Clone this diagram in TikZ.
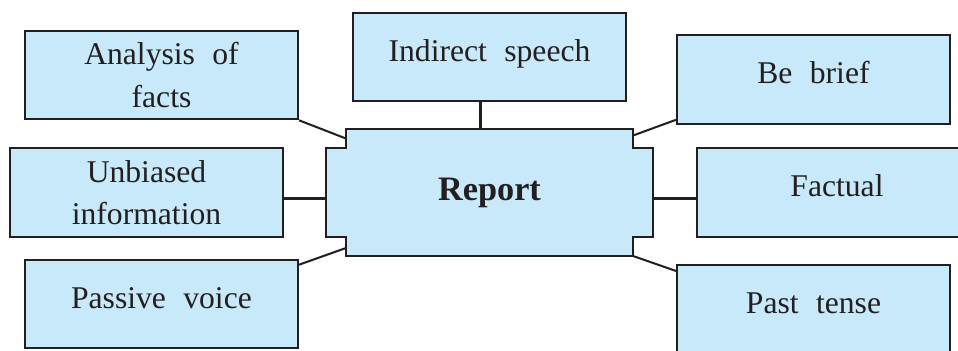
\documentclass[tikz,border=0pt]{standalone}
\usepackage{fontspec}
\setmainfont{Liberation Serif}[WordSpace=2.2]
\usepackage{tikz}
\usetikzlibrary{calc,backgrounds}
\definecolor{boxblue}{RGB}{199,233,249}
\definecolor{inkline}{RGB}{35,31,32}

\begin{document}
\begin{tikzpicture}[
  leaf/.style={draw=inkline, fill=boxblue, line width=1.2pt,
    minimum width=5.46cm, minimum height=1.77cm, align=center,
    font=\fontsize{18}{24}\selectfont, text=inkline},
  oneline/.style={text height=0.72em, text depth=0.22em},
  link/.style={draw=inkline, line width=1.15pt}
]
\useasboundingbox (0,0) rectangle (19.16,7);
\node [leaf] (analysis) at (3.23,5.50) {Analysis of\\facts};
\node [leaf] (unbiased) at (2.93,3.15) {Unbiased\\information};
\node [leaf, oneline] (passive) at (3.23,0.92) {Passive voice};
\node [leaf, oneline] (indirect) at (9.79,5.86) {Indirect speech};
\node [leaf, oneline] (bebrief) at (16.27,5.41) {Be brief};
\node [leaf, oneline, minimum width=5.6cm] (factual) at (16.74,3.15) {Factual};
\node [leaf, oneline] (pasttense) at (16.27,0.815) {Past tense};
\node [minimum width=6.52cm, minimum height=2.53cm, inner sep=0pt,
  font=\fontsize{19.5}{24}\selectfont\bfseries, text=inkline]
  (report) at (9.79,3.15) {Report};
\begin{scope}[on background layer]
\fill [boxblue, draw=inkline, line width=1.2pt]
  ([xshift=3.9mm]report.north west) -- ([xshift=-3.9mm]report.north east)
  -- ++(0,-3.8mm) -- ([yshift=-3.8mm]report.north east)
  -- ([yshift=3.8mm]report.south east) -- ++(-3.9mm,0)
  -- ([xshift=-3.9mm]report.south east) -- ([xshift=3.9mm]report.south west)
  -- ++(0,3.8mm) -- ([yshift=3.8mm]report.south west)
  -- ([yshift=-3.8mm]report.north west) -- ++(3.9mm,0) -- cycle;
\end{scope}
\draw [link] ([xshift=-1.8mm]indirect.south) -- ([xshift=-1.8mm]report.north);
\draw [link] ([yshift=-1.2mm]unbiased.east) -- ([yshift=-1.2mm]report.west);
\draw [link] ([yshift=-1.2mm]factual.west) -- ([yshift=-1.2mm]report.east);
\draw [link] (analysis.south east) -- ([shift={(3.9mm,-1.9mm)}]report.north west);
\draw [link] ([yshift=-1.2mm]passive.north east) -- ([shift={(3.9mm,1.6mm)}]report.south west);
\draw [link] ([yshift=1mm]bebrief.south west) -- ([shift={(-3.9mm,-1.3mm)}]report.north east);
\draw [link] ([yshift=-1.4mm]pasttense.north west) -- ([xshift=-3.9mm]report.south east);
\end{tikzpicture}
\end{document}
